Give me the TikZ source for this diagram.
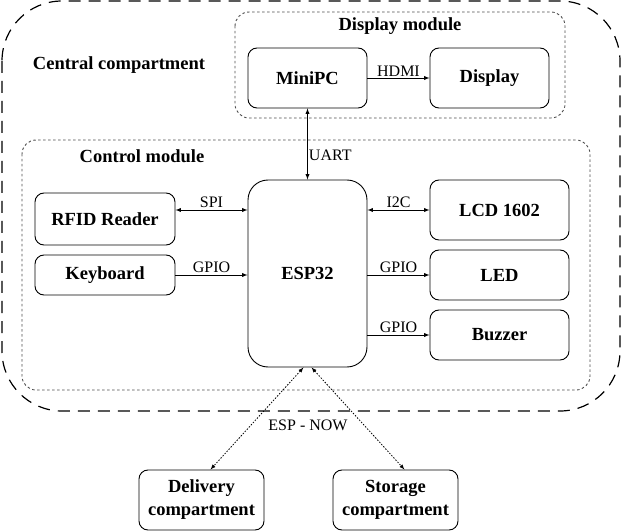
\documentclass[tikz,border=0pt]{standalone}
\usepackage{fontspec}
\setmainfont{Liberation Serif}
\usepackage{tikz}
\usetikzlibrary{positioning,calc,arrows}

\tikzset{
  unit/.style={draw, rounded corners=9pt, line width=0.9pt, align=center,
    font=\fontsize{18.5}{23}\selectfont\bfseries, inner sep=0pt},
  module/.style={draw=black!70, dash pattern=on 2.5pt off 2.5pt, line width=0.9pt, rounded corners=14pt},
  title/.style={font=\fontsize{18.5}{20}\selectfont\bfseries},
  bus/.style={font=\fontsize{16}{17}\selectfont},
  wire/.style={line width=0.9pt, -latex},
  wire2/.style={line width=0.9pt, latex-latex},
  radio/.style={line width=0.8pt, latex-latex, dash pattern=on 1.5pt off 1.5pt}
}

\begin{document}
\begin{tikzpicture}[x=1pt,y=-1pt]
  \useasboundingbox (0,0) rectangle (622,532);

  % central compartment
  \draw[line width=1.2pt, dash pattern=on 12pt off 8pt, rounded corners=60pt] (2,1) rectangle (620,411);
  \node[title] (central) at (119,65) {Central compartment};

  % display module
  \draw[module] (235,12) rectangle (565,118);
  \node[title] (dispmod) at (400,26) {Display module};
  \node[unit, minimum width=119pt, minimum height=60pt] (minipc) at (307.5,78) {MiniPC};
  \node[unit, minimum width=119pt, minimum height=60pt] (display) at (489.5,78) {Display};
  \draw[wire] (minipc) -- node[bus, above, inner sep=1.5pt] {HDMI} (display);

  % control module
  \draw[module] (22,140) rectangle (590,390);
  \node[title] (ctrlmod) at (142,156) {Control module};
  \node[unit, minimum width=119pt, minimum height=187pt, rounded corners=20pt] (esp) at (307.5,273.5) {ESP32};
  \draw[wire2] (minipc.south) -- node[bus, right, inner sep=1pt, pos=0.66] {UART} (esp.north);

  \node[unit, minimum width=140pt, minimum height=52pt] (rfid) at (105,219) {RFID Reader};
  \node[unit, minimum width=140pt, minimum height=40pt] (keys) at (105,275) {Keyboard};
  \node[unit, minimum width=139pt, minimum height=60pt] (lcd) at (499.5,210) {LCD 1602};
  \node[unit, minimum width=139pt, minimum height=50pt] (led) at (499.5,275) {LED};
  \node[unit, minimum width=139pt, minimum height=50pt] (buzz) at (499.5,335) {Buzzer};

  \draw[wire2] (rfid.east |- 0,210) -- node[bus, above, inner sep=1.5pt] {SPI} (esp.west |- 0,210);
  \draw[wire] (keys.east) -- node[bus, above, inner sep=1.5pt] {GPIO} (esp.west |- keys.east);
  \draw[wire2] (esp.east |- lcd.west) -- node[bus, above, inner sep=1.5pt] {I2C} (lcd.west);
  \draw[wire] (esp.east |- led.west) -- node[bus, above, inner sep=1.5pt] {GPIO} (led.west);
  \draw[wire] (esp.east |- buzz.west) -- node[bus, above, inner sep=1.5pt] {GPIO} (buzz.west);

  % other compartments
  \node[unit, minimum width=125pt, minimum height=60pt] (delivery) at (201.5,500) {Delivery\\compartment};
  \node[unit, minimum width=125pt, minimum height=60pt] (storage) at (395.5,500) {Storage\\compartment};
  \draw[radio] ([xshift=-4pt]esp.south) -- ([xshift=9pt]delivery.north);
  \draw[radio] ([xshift=4pt]esp.south) -- ([xshift=9pt]storage.north);
  \node[bus] (espnow) at (308,425) {ESP - NOW};
\end{tikzpicture}
\end{document}
